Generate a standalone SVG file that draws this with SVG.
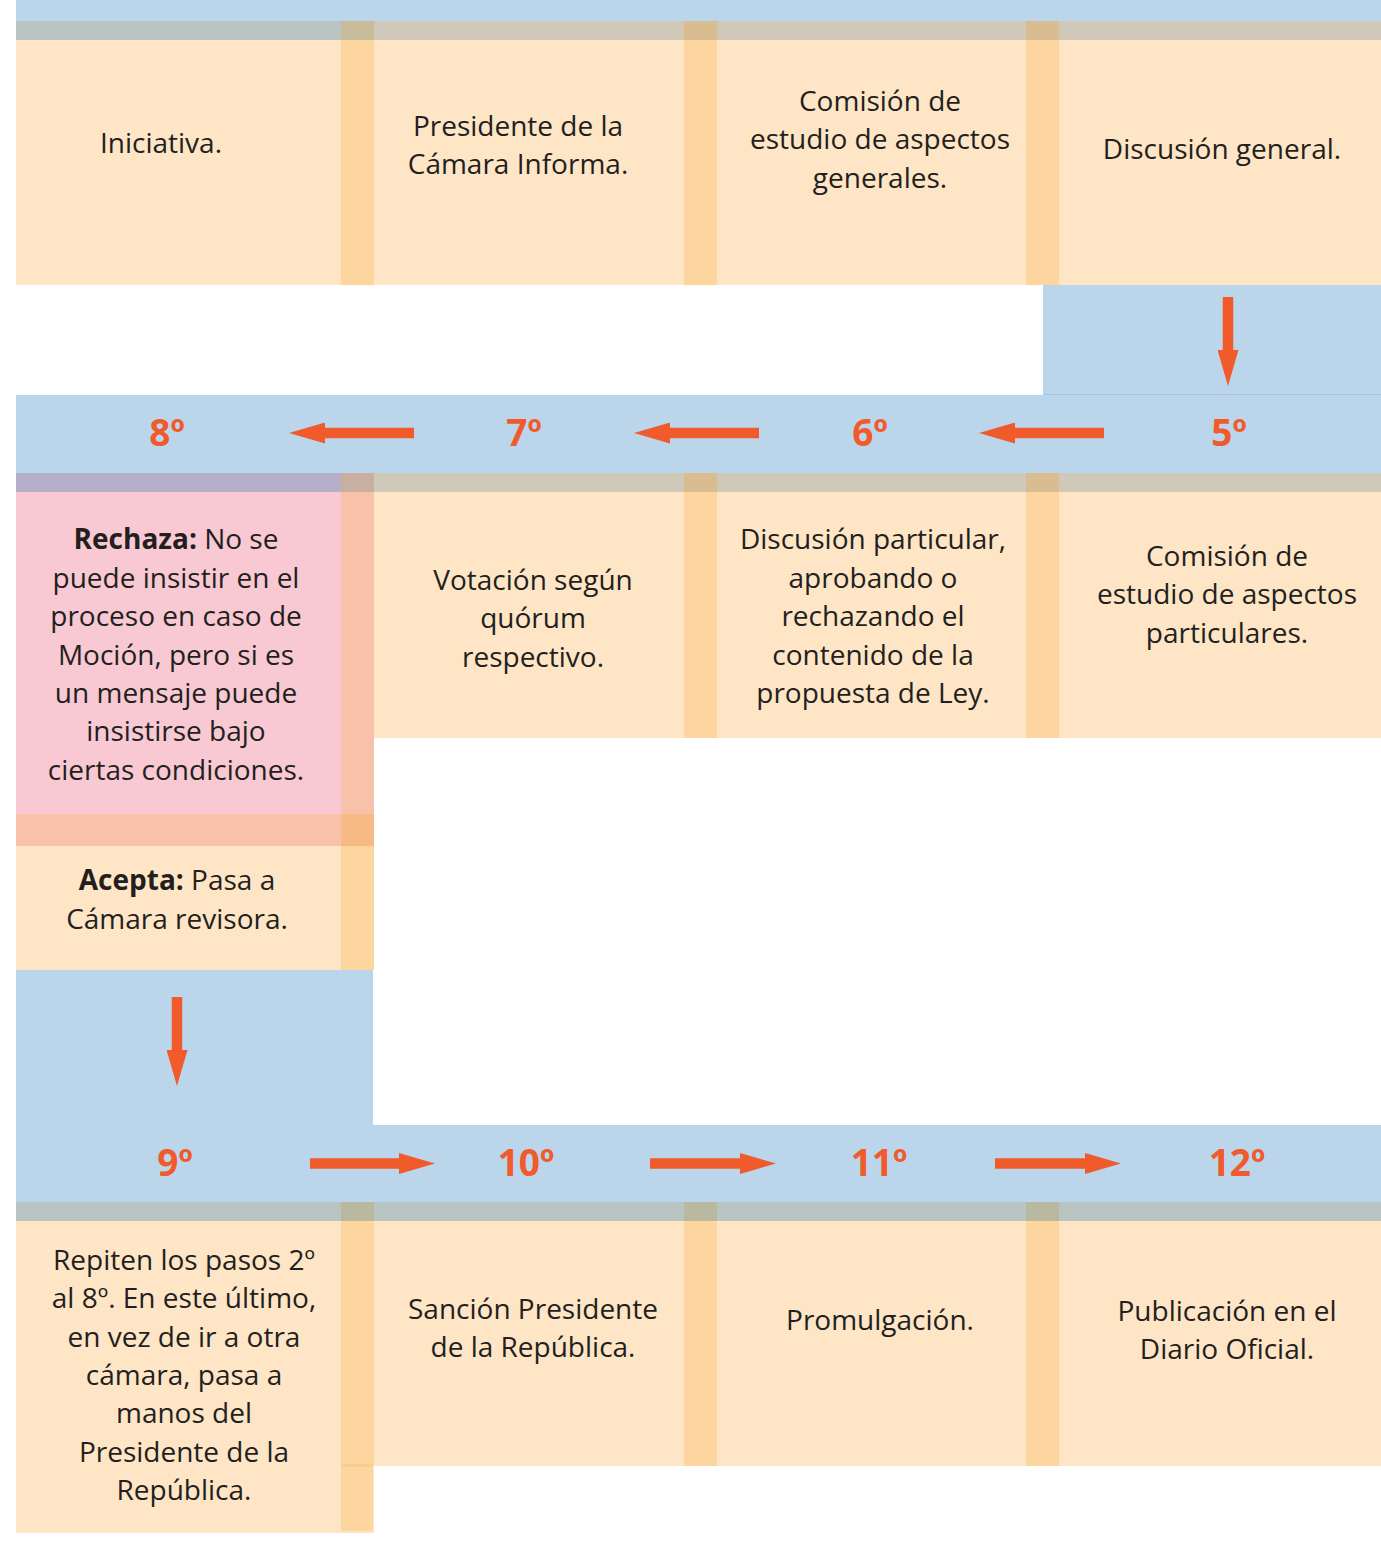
<svg xmlns="http://www.w3.org/2000/svg" width="1381" height="1567" viewBox="0 0 1381 1567">
<defs>
<style>
.blue{fill:#BBD5EA}
.cream{fill:#FDE5C6}
.stripe{fill:#FCD59F}
.bandB{fill:#B9C5C3}
.bandT{fill:#D0C8B8}
.bandS{fill:#D9BD91}
.bandBS{fill:#C9BC9B}
.pink{fill:#F8C9D2}
.t{font-family:"Open Sans","Noto Sans",sans-serif;font-size:28px;fill:#231F20;text-anchor:middle}
.b{font-weight:bold}
.num{font-family:"Open Sans","Noto Sans",sans-serif;font-size:37px;font-weight:bold;fill:#F15A2B;text-anchor:middle}
.arr{stroke:#F15A2B;stroke-width:10.5;fill:none}
</style>
<marker id="ah" viewBox="0 0 36 21" refX="0" refY="10.5" markerWidth="36" markerHeight="21" markerUnits="userSpaceOnUse" orient="auto">
<path d="M0,0 L36,10.5 L0,21 z" fill="#F15A2B"/>
</marker>
</defs>
<rect width="1381" height="1567" fill="#FFFFFF"/>

<!-- bands -->
<g id="bands">
<rect class="blue" x="16" y="0" width="1365" height="21"/>
<rect class="blue" x="1043" y="285" width="338" height="110"/>
<line x1="1043" y1="395" x2="1381" y2="395" stroke="#92B3D5" stroke-width="1"/>
<rect class="blue" x="16" y="395" width="1365" height="78"/>
<rect class="blue" x="16" y="970" width="357" height="155"/>
<rect class="blue" x="16" y="1125" width="1365" height="77"/>
</g>

<!-- Top row -->
<g id="n1">
<rect class="bandB" x="16" y="21" width="358" height="19"/>
<rect class="cream" x="16" y="40" width="358" height="245"/>
<rect class="bandBS" x="341" y="21" width="33" height="19"/>
<rect class="stripe" x="341" y="40" width="33" height="245"/>
<text class="t" x="161" y="153">Iniciativa.</text>
</g>
<g id="n2">
<rect class="bandT" x="374" y="21" width="343" height="19"/>
<rect class="cream" x="374" y="40" width="343" height="245"/>
<rect class="bandS" x="684" y="21" width="33" height="19"/>
<rect class="stripe" x="684" y="40" width="33" height="245"/>
<text class="t" x="518" y="136">Presidente de la</text>
<text class="t" x="518" y="174">Cámara Informa.</text>
</g>
<g id="n3">
<rect class="bandT" x="717" y="21" width="342" height="19"/>
<rect class="cream" x="717" y="40" width="342" height="245"/>
<rect class="bandS" x="1026" y="21" width="33" height="19"/>
<rect class="stripe" x="1026" y="40" width="33" height="245"/>
<text class="t" x="880" y="111">Comisión de</text>
<text class="t" x="880" y="149">estudio de aspectos</text>
<text class="t" x="880" y="188">generales.</text>
</g>
<g id="n4">
<rect class="bandT" x="1059" y="21" width="322" height="19"/>
<rect class="cream" x="1059" y="40" width="322" height="245"/>
<text class="t" x="1222" y="159">Discusión general.</text>
</g>

<!-- Middle row -->
<g id="n8">
<rect fill="#B5AFCA" x="16" y="473" width="358" height="19"/>
<rect class="pink" x="16" y="492" width="358" height="322"/>
<rect fill="#F8C2AA" x="16" y="814" width="358" height="32"/>
<rect class="cream" x="16" y="846" width="358" height="124"/>
<rect fill="#C8AFA0" x="341" y="473" width="33" height="19"/>
<rect fill="#F8C2AA" x="341" y="492" width="33" height="322"/>
<rect fill="#F7BA85" x="341" y="814" width="33" height="32"/>
<rect class="stripe" x="341" y="846" width="33" height="124"/>
<text class="t" x="176" y="549"><tspan class="b">Rechaza:</tspan> No se</text>
<text class="t" x="176" y="588">puede insistir en el</text>
<text class="t" x="176" y="626">proceso en caso de</text>
<text class="t" x="176" y="665">Moción, pero si es</text>
<text class="t" x="176" y="703">un mensaje puede</text>
<text class="t" x="176" y="741">insistirse bajo</text>
<text class="t" x="176" y="780">ciertas condiciones.</text>
<text class="t" x="177" y="890"><tspan class="b">Acepta:</tspan> Pasa a</text>
<text class="t" x="177" y="929">Cámara revisora.</text>
</g>
<g id="n7">
<rect class="bandT" x="374" y="473" width="343" height="19"/>
<rect class="cream" x="374" y="492" width="343" height="246"/>
<rect class="bandS" x="684" y="473" width="33" height="19"/>
<rect class="stripe" x="684" y="492" width="33" height="246"/>
<text class="t" x="533" y="590">Votación según</text>
<text class="t" x="533" y="628">quórum</text>
<text class="t" x="533" y="667">respectivo.</text>
</g>
<g id="n6">
<rect class="bandT" x="717" y="473" width="342" height="19"/>
<rect class="cream" x="717" y="492" width="342" height="246"/>
<rect class="bandS" x="1026" y="473" width="33" height="19"/>
<rect class="stripe" x="1026" y="492" width="33" height="246"/>
<text class="t" x="873" y="549">Discusión particular,</text>
<text class="t" x="873" y="588">aprobando o</text>
<text class="t" x="873" y="626">rechazando el</text>
<text class="t" x="873" y="665">contenido de la</text>
<text class="t" x="873" y="703">propuesta de Ley.</text>
</g>
<g id="n5">
<rect class="bandT" x="1059" y="473" width="322" height="19"/>
<rect class="cream" x="1059" y="492" width="322" height="246"/>
<text class="t" x="1227" y="566">Comisión de</text>
<text class="t" x="1227" y="604">estudio de aspectos</text>
<text class="t" x="1227" y="643">particulares.</text>
</g>

<!-- Bottom row -->
<g id="n9">
<rect class="bandB" x="16" y="1202" width="358" height="19"/>
<rect class="cream" x="16" y="1221" width="358" height="312"/>
<rect fill="#B9B9A2" x="341" y="1202" width="33" height="19"/>
<rect class="stripe" x="341" y="1221" width="33" height="244"/>
<rect class="stripe" x="341" y="1465" width="32" height="66"/>
<line x1="341" y1="1465.5" x2="373" y2="1465.5" stroke="#F9C98A" stroke-width="2"/>
<text class="t" x="184" y="1270">Repiten los pasos 2º</text>
<text class="t" x="184" y="1308">al 8º. En este último,</text>
<text class="t" x="184" y="1347">en vez de ir a otra</text>
<text class="t" x="184" y="1385">cámara, pasa a</text>
<text class="t" x="184" y="1423">manos del</text>
<text class="t" x="184" y="1462">Presidente de la</text>
<text class="t" x="184" y="1500">República.</text>
</g>
<g id="n10">
<rect class="bandB" x="374" y="1202" width="343" height="19"/>
<rect class="cream" x="374" y="1221" width="343" height="245"/>
<rect fill="#B9B9A2" x="684" y="1202" width="33" height="19"/>
<rect class="stripe" x="684" y="1221" width="33" height="245"/>
<text class="t" x="533" y="1319">Sanción Presidente</text>
<text class="t" x="533" y="1357">de la República.</text>
</g>
<g id="n11">
<rect class="bandB" x="717" y="1202" width="342" height="19"/>
<rect class="cream" x="717" y="1221" width="342" height="245"/>
<rect fill="#B9B9A2" x="1026" y="1202" width="33" height="19"/>
<rect class="stripe" x="1026" y="1221" width="33" height="245"/>
<text class="t" x="880" y="1330">Promulgación.</text>
</g>
<g id="n12">
<rect class="bandB" x="1059" y="1202" width="322" height="19"/>
<rect class="cream" x="1059" y="1221" width="322" height="245"/>
<text class="t" x="1227" y="1321">Publicación en el</text>
<text class="t" x="1227" y="1359">Diario Oficial.</text>
</g>

<!-- step numbers -->
<g id="labels">
<text class="num" x="167" y="446">8º</text>
<text class="num" x="524" y="446">7º</text>
<text class="num" x="870" y="446">6º</text>
<text class="num" x="1229" y="446">5º</text>
<text class="num" x="175" y="1176">9º</text>
<text class="num" x="526" y="1176">10º</text>
<text class="num" x="879" y="1176">11º</text>
<text class="num" x="1237" y="1176">12º</text>
</g>

<!-- connectors -->
<g id="connectors">
<line class="arr" x1="1228" y1="297" x2="1228" y2="350" marker-end="url(#ah)"/>
<line class="arr" x1="1104" y1="433" x2="1015" y2="433" marker-end="url(#ah)"/>
<line class="arr" x1="759" y1="433" x2="670" y2="433" marker-end="url(#ah)"/>
<line class="arr" x1="414" y1="433" x2="325" y2="433" marker-end="url(#ah)"/>
<line class="arr" x1="177" y1="997" x2="177" y2="1050" marker-end="url(#ah)"/>
<line class="arr" x1="310" y1="1163.5" x2="399" y2="1163.5" marker-end="url(#ah)"/>
<line class="arr" x1="650" y1="1163.5" x2="740" y2="1163.5" marker-end="url(#ah)"/>
<line class="arr" x1="995" y1="1163.5" x2="1085" y2="1163.5" marker-end="url(#ah)"/>
</g>
</svg>
